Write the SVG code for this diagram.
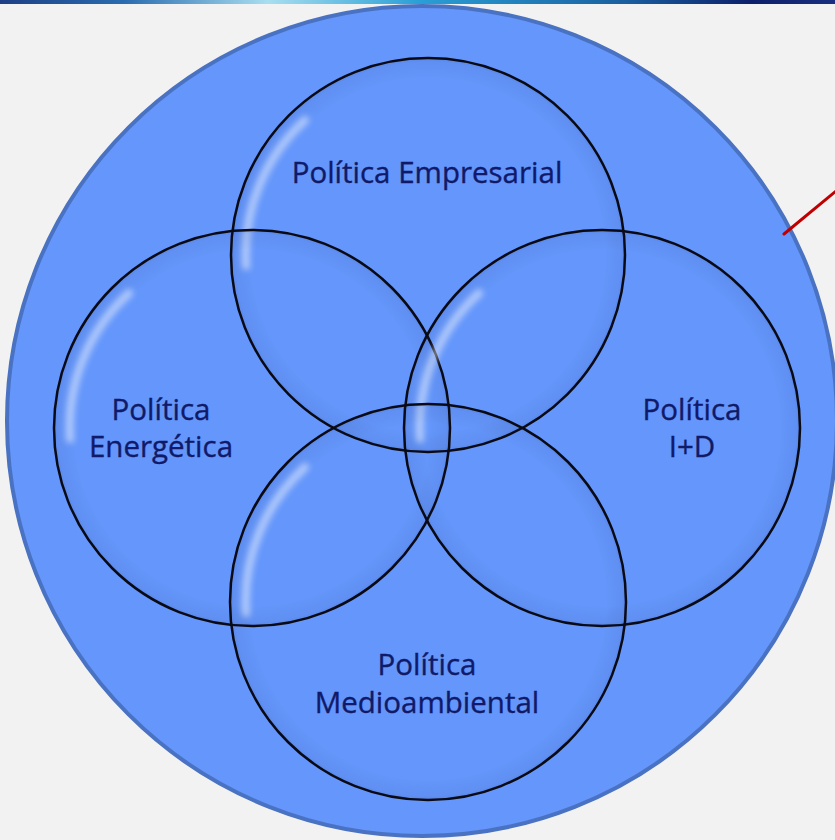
<svg xmlns="http://www.w3.org/2000/svg" width="835" height="840" viewBox="0 0 835 840">
<defs>
<linearGradient id="bar" x1="0" y1="0" x2="1" y2="0">
<stop offset="0" stop-color="#1d3f86"/>
<stop offset="0.15" stop-color="#2a6cb0"/>
<stop offset="0.32" stop-color="#a9def0"/>
<stop offset="0.5" stop-color="#2aa0d6"/>
<stop offset="0.75" stop-color="#1a5fa0"/>
<stop offset="0.9" stop-color="#0c1f6a"/>
<stop offset="1" stop-color="#1a2f80"/>
</linearGradient>
<radialGradient id="glass" cx="0.5" cy="0.5" r="0.5">
<stop offset="0.9" stop-color="#000" stop-opacity="0"/>
<stop offset="0.98" stop-color="#1a2f70" stop-opacity="0.06"/>
<stop offset="1" stop-color="#1a2f70" stop-opacity="0.15"/>
</radialGradient>
<filter id="blur" x="-20%" y="-20%" width="140%" height="140%">
<feGaussianBlur stdDeviation="3"/>
</filter>
</defs>
<style>
.ring{fill:url(#glass);stroke:#0a0a14;stroke-width:2.5}
.hl{fill:none;stroke:#ffffff;stroke-width:8;stroke-linecap:round;opacity:0.5;filter:url(#blur)}
.lbl{font-family:"Open Sans","Liberation Sans",sans-serif;font-size:29.5px;fill:#101a68;stroke:#101a68;stroke-width:0.35;text-anchor:middle}
</style>
<rect width="835" height="840" fill="#f2f2f2"/>
<rect x="0" y="0" width="835" height="4" fill="url(#bar)"/>
<g id="outer">
<circle cx="422" cy="421" r="415" fill="#6496fb" stroke="#4a72c2" stroke-width="4"/>
</g>
<g id="connectors">
<line x1="784" y1="234" x2="836" y2="191" stroke="#c00000" stroke-width="3" stroke-linecap="round"/>
</g>
<g id="empresarial">
<circle class="ring" cx="428" cy="255" r="197"/>
<path class="hl" d="M 246.0 266.1 A 182 182 0 0 1 305.0 120.0"/>
<text class="lbl" x="427" y="183">Política Empresarial</text>
</g>
<g id="energetica">
<circle class="ring" cx="252" cy="428" r="198"/>
<path class="hl" d="M 70.0 439.1 A 182 182 0 0 1 129.0 293.0"/>
<text class="lbl" x="161" y="420">Política</text>
<text class="lbl" x="161" y="457">Energética</text>
</g>
<g id="id">
<circle class="ring" cx="602" cy="428" r="198"/>
<path class="hl" d="M 420.0 439.1 A 182 182 0 0 1 479.0 293.0"/>
<text class="lbl" x="692" y="420">Política</text>
<text class="lbl" x="692" y="457">I+D</text>
</g>
<g id="medioambiental">
<circle class="ring" cx="428" cy="602" r="198"/>
<path class="hl" d="M 246.0 613.1 A 182 182 0 0 1 305.0 467.0"/>
<text class="lbl" x="427" y="675">Política</text>
<text class="lbl" x="427" y="713">Medioambiental</text>
</g>
</svg>
